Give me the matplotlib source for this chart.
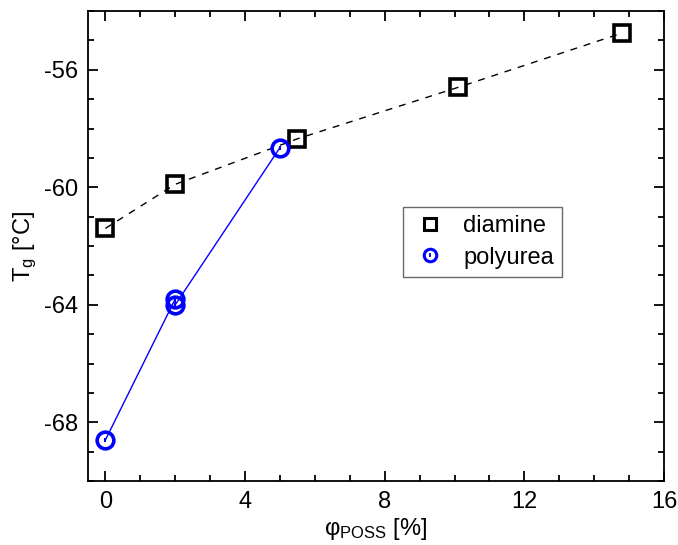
import matplotlib
matplotlib.use("Agg")
import matplotlib.pyplot as plt
from matplotlib.ticker import MultipleLocator
from matplotlib.lines import Line2D

plt.rcParams['font.family'] = ['Liberation Sans', 'DejaVu Sans']
plt.rcParams['mathtext.fontset'] = 'custom'
plt.rcParams['mathtext.rm'] = 'Liberation Sans'
plt.rcParams['mathtext.it'] = 'Liberation Sans:italic'
plt.rcParams['axes.unicode_minus'] = False

# glass transition vs POSS content
diamine_x = [0, 2, 5.5, 10.1, 14.8]
diamine_tg = [-61.4, -59.9, -58.35, -56.6, -54.75]
polyurea_x = [0, 2, 2, 5]
polyurea_tg = [-68.6, -63.8, -64.0, -58.65]

fig = plt.figure(figsize=(6.78, 5.45), dpi=100)
ax = fig.add_axes([88/678, 1 - 481/545, (664-88)/678, (481-11)/545])

ax.plot(diamine_x, diamine_tg, color='black', ls=(0, (5, 5)), lw=1.0,
        marker='s', ms=11, mfc='none', mec='black', mew=2.6, label='diamine')
ax.plot(polyurea_x, polyurea_tg, color='blue', lw=1.0,
        marker='o', ms=12, mfc='none', mec='blue', mew=2.6, label='polyurea')
# centre dots of the circle symbols
ax.plot(polyurea_x, polyurea_tg, ls='none', marker='|', ms=3, mew=1.5, color='blue')

ax.set_xlim(-0.5, 16)
ax.set_ylim(-70, -54)
ax.xaxis.set_major_locator(MultipleLocator(4))
ax.xaxis.set_minor_locator(MultipleLocator(1))
ax.yaxis.set_major_locator(MultipleLocator(4))
ax.yaxis.set_minor_locator(MultipleLocator(1))
ax.tick_params(which='both', direction='in', top=True, right=True, width=1.3)
ax.tick_params(which='major', length=7, labelsize=17, pad=7)
ax.tick_params(which='minor', length=4)
for s in ax.spines.values():
    s.set_linewidth(1.3)

ax.set_xlabel(r'φ$_\mathrm{POSS}$ [%]', fontsize=17, labelpad=2)
ax.set_ylabel(r'T$_\mathrm{g}$ [°C]', fontsize=17, labelpad=4)

# legend: circle entry carries its centre dot too
h_d = Line2D([], [], ls='none', marker='s', ms=8, mfc='none', mec='black', mew=2.2)
h_p = Line2D([], [], ls='none', marker='o', ms=9, mfc='none', mec='blue', mew=2.2)
h_dot = Line2D([], [], ls='none', marker='|', ms=2.5, mew=1.3, color='blue')
leg = ax.legend([h_d, (h_p, h_dot)], ['diamine', 'polyurea'], loc='upper left',
                bbox_to_anchor=((403-88)/576, (481-207)/470), borderaxespad=0,
                fontsize=17, frameon=True, fancybox=False, edgecolor='#444444',
                borderpad=0.35, handletextpad=0.6, labelspacing=0.4, handlelength=1.6)
leg.get_frame().set_linewidth(1.0)

fig.savefig('out.png', dpi=100)
